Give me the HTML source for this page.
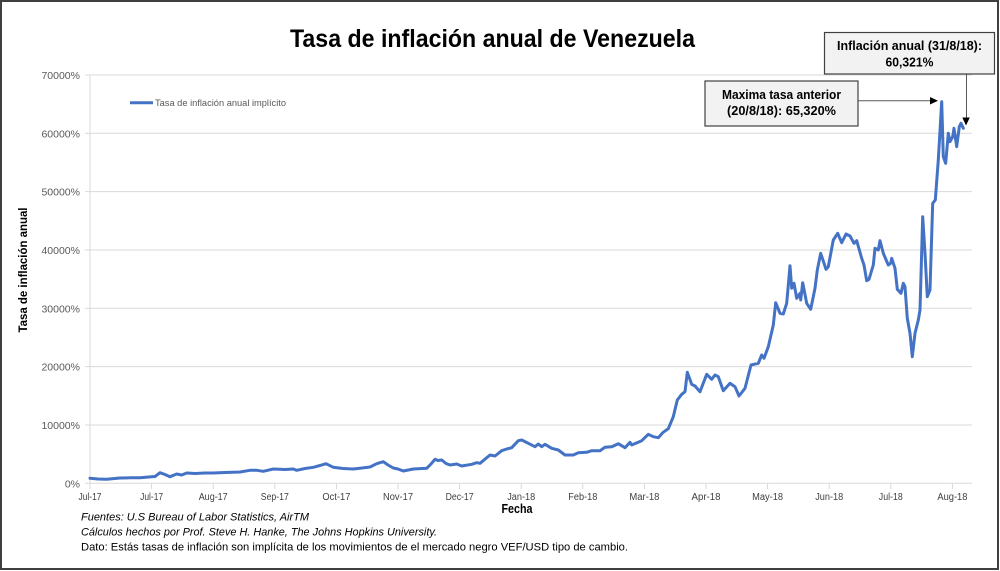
<!DOCTYPE html>
<html>
<head>
<meta charset="utf-8">
<style>
html,body{margin:0;padding:0;background:#fff;}
svg{display:block;}
text{font-family:"Liberation Sans",sans-serif;}
</style>
</head>
<body>
<svg width="1000" height="571" viewBox="0 0 1000 571" xmlns="http://www.w3.org/2000/svg">
<rect x="0" y="0" width="1000" height="571" fill="#fff"/>
<rect x="1" y="1" width="997" height="568" fill="#fff" stroke="#404040" stroke-width="2"/>

<!-- Title -->
<text x="290" y="47" font-size="25" font-weight="bold" fill="#000" textLength="405" lengthAdjust="spacingAndGlyphs">Tasa de inflación anual de Venezuela</text>

<!-- gridlines -->
<g stroke="#d9d9d9" stroke-width="1">
<line x1="90" y1="75" x2="972" y2="75"/>
<line x1="90" y1="133.3" x2="972" y2="133.3"/>
<line x1="90" y1="191.6" x2="972" y2="191.6"/>
<line x1="90" y1="250" x2="972" y2="250"/>
<line x1="90" y1="308.3" x2="972" y2="308.3"/>
<line x1="90" y1="366.6" x2="972" y2="366.6"/>
<line x1="90" y1="425" x2="972" y2="425"/>
<line x1="85" y1="483.3" x2="972" y2="483.3"/>
<line x1="90" y1="75" x2="90" y2="483.3"/>
<!-- y ticks -->
<line x1="85" y1="75" x2="90" y2="75"/>
<line x1="85" y1="133.3" x2="90" y2="133.3"/>
<line x1="85" y1="191.6" x2="90" y2="191.6"/>
<line x1="85" y1="250" x2="90" y2="250"/>
<line x1="85" y1="308.3" x2="90" y2="308.3"/>
<line x1="85" y1="366.6" x2="90" y2="366.6"/>
<line x1="85" y1="425" x2="90" y2="425"/>
<!-- x ticks -->
<line x1="90" y1="483" x2="90" y2="489"/>
<line x1="151.6" y1="483" x2="151.6" y2="489"/>
<line x1="213.2" y1="483" x2="213.2" y2="489"/>
<line x1="274.8" y1="483" x2="274.8" y2="489"/>
<line x1="336.4" y1="483" x2="336.4" y2="489"/>
<line x1="398" y1="483" x2="398" y2="489"/>
<line x1="459.6" y1="483" x2="459.6" y2="489"/>
<line x1="521.2" y1="483" x2="521.2" y2="489"/>
<line x1="582.8" y1="483" x2="582.8" y2="489"/>
<line x1="644.4" y1="483" x2="644.4" y2="489"/>
<line x1="706" y1="483" x2="706" y2="489"/>
<line x1="767.6" y1="483" x2="767.6" y2="489"/>
<line x1="829.2" y1="483" x2="829.2" y2="489"/>
<line x1="890.8" y1="483" x2="890.8" y2="489"/>
<line x1="952.4" y1="483" x2="952.4" y2="489"/>
</g>

<!-- y labels -->
<g font-size="10.5" fill="#595959" text-anchor="end">
<text x="80" y="79">70000%</text>
<text x="80" y="137.3">60000%</text>
<text x="80" y="195.6">50000%</text>
<text x="80" y="254">40000%</text>
<text x="80" y="312.3">30000%</text>
<text x="80" y="370.6">20000%</text>
<text x="80" y="429">10000%</text>
<text x="80" y="487.3">0%</text>
</g>

<!-- x labels -->
<g font-size="10" fill="#404040" text-anchor="middle">
<text x="90" y="500" textLength="23" lengthAdjust="spacingAndGlyphs">Jul-17</text>
<text x="151.6" y="500" textLength="23" lengthAdjust="spacingAndGlyphs">Jul-17</text>
<text x="213.2" y="500" textLength="29" lengthAdjust="spacingAndGlyphs">Aug-17</text>
<text x="274.8" y="500" textLength="28" lengthAdjust="spacingAndGlyphs">Sep-17</text>
<text x="336.4" y="500" textLength="28" lengthAdjust="spacingAndGlyphs">Oct-17</text>
<text x="398" y="500" textLength="30" lengthAdjust="spacingAndGlyphs">Nov-17</text>
<text x="459.6" y="500" textLength="28" lengthAdjust="spacingAndGlyphs">Dec-17</text>
<text x="521.2" y="500" textLength="28" lengthAdjust="spacingAndGlyphs">Jan-18</text>
<text x="582.8" y="500" textLength="29" lengthAdjust="spacingAndGlyphs">Feb-18</text>
<text x="644.4" y="500" textLength="30" lengthAdjust="spacingAndGlyphs">Mar-18</text>
<text x="706" y="500" textLength="29" lengthAdjust="spacingAndGlyphs">Apr-18</text>
<text x="767.6" y="500" textLength="31" lengthAdjust="spacingAndGlyphs">May-18</text>
<text x="829.2" y="500" textLength="28" lengthAdjust="spacingAndGlyphs">Jun-18</text>
<text x="890.8" y="500" textLength="24" lengthAdjust="spacingAndGlyphs">Jul-18</text>
<text x="952.4" y="500" textLength="30" lengthAdjust="spacingAndGlyphs">Aug-18</text>
</g>

<!-- axis titles -->
<text x="501.5" y="513" font-size="12.5" font-weight="bold" fill="#000" textLength="31" lengthAdjust="spacingAndGlyphs">Fecha</text>
<text transform="translate(27,270) rotate(-90)" x="0" y="0" font-size="12" font-weight="bold" fill="#000" text-anchor="middle" textLength="125" lengthAdjust="spacingAndGlyphs">Tasa de inflación anual</text>

<!-- legend -->
<line x1="130" y1="102.7" x2="153" y2="102.7" stroke="#4472C4" stroke-width="3"/>
<text x="155" y="106" font-size="9" fill="#595959" textLength="131" lengthAdjust="spacingAndGlyphs">Tasa de inflación anual implícito</text>

<!-- series -->
<polyline fill="none" stroke="#4472C4" stroke-width="3" stroke-linejoin="round" stroke-linecap="round" points="90,478.3 98,479 106.7,479.3 120,478 130,477.8 140,477.7 151.7,476.7 155,476.5 160,472.7 165,474.5 170,476.7 176.7,474 181.7,475 186.7,473 195,473.5 205,473 213.3,473 225,472.5 240,472 250,470.3 256.7,470.3 263.3,471.3 273.3,469 285,469.5 293.3,469 296.7,470.3 305,468.5 313.3,467.3 320,465.5 326,463.7 333.3,467.3 343,468.5 353.3,469 362,468 370,467 376.7,463.7 383.3,461.7 388,465 393.3,468 398,469 403.3,471 413.3,469 426.7,468.3 431,464 435,459.3 438,460.5 441.7,460 446,463.5 450,465 456.7,464 461.7,466 471.7,464.3 476.7,462.7 480,463.3 490,455 495,456 501.7,450.7 506.7,449 511.7,447.7 518.3,440.7 521.7,440 528.3,443.3 535,446.7 538.3,444 541.7,446.7 545,444.3 551.7,448.3 558.3,450 565,455 573.3,455 578.3,452.7 586.7,452.3 591.7,450.7 600,450.7 605,447.3 611.7,446.7 618.3,443.7 625,447.7 630,442.3 631.7,445 641.7,440.7 648.3,434.3 653.3,436.7 658.3,437.7 662.7,432.7 668.3,428.7 673.3,416.7 677.3,400 681.7,394.3 685,391.7 687.3,372.3 691.7,384.3 695,386 700,391.7 706.7,374.3 711.7,379.3 715,375 718.3,376.7 723.3,390.7 730,383.3 735,386.7 739,396 745,388.3 751,365 758.3,363.3 761.7,355 764,358.3 768.3,346.7 773.3,325 775.7,302.7 780,313.3 783.3,314 786.7,303.3 790,265.7 791.7,288.3 794,283.3 796.7,298.3 800,293.3 800.7,300 802.7,282.7 806.7,303.3 810.7,309.3 815,288.3 817.3,270 820.7,253.3 826,269.3 828.3,266.7 833.3,240 837.7,233.3 841.7,242.7 846,234 850,236 854,243.3 856.7,240.7 861.7,258.3 864,265 866.7,280.7 869,279.3 873.3,265 875,248.3 878.3,250 880,240.7 883.3,253.3 888.3,265 890.7,263.3 891.7,258.3 895,268.3 897.3,289.3 901,293.3 903.3,283.3 905,286.7 907.3,318.3 910,333.3 912.3,356.7 915,333.3 918.3,320 920,310 922.7,216.7 925,253.3 927.3,296.7 930,290 932.7,203.3 935.3,200 938.3,160 941.7,101.7 943.3,156.7 945.7,163.3 948.3,133.3 950,141.7 952.7,136.7 954,128.3 956.7,146.7 959.3,126.7 961,123.3 963.3,128.3"/>

<!-- annotation connectors -->
<line x1="858" y1="100.7" x2="931" y2="100.7" stroke="#595959" stroke-width="1"/>
<polygon points="938,100.7 930,97 930,104.5" fill="#000"/>
<line x1="966.5" y1="74" x2="966.5" y2="118" stroke="#595959" stroke-width="1"/>
<polygon points="966,125.5 962.3,117.5 969.8,117.5" fill="#000"/>

<!-- annotation boxes -->
<rect x="705" y="81" width="153" height="45" fill="#f2f2f2" stroke="#404040" stroke-width="1.2"/>
<text x="781.5" y="99" font-size="12.5" font-weight="bold" fill="#000" text-anchor="middle" textLength="119" lengthAdjust="spacingAndGlyphs">Maxima tasa anterior</text>
<text x="781.5" y="115" font-size="12.5" font-weight="bold" fill="#000" text-anchor="middle" textLength="109" lengthAdjust="spacingAndGlyphs">(20/8/18): 65,320%</text>

<rect x="824.5" y="32.5" width="170" height="41.5" fill="#f2f2f2" stroke="#404040" stroke-width="1.2"/>
<text x="909.5" y="50" font-size="12.5" font-weight="bold" fill="#000" text-anchor="middle" textLength="145" lengthAdjust="spacingAndGlyphs">Inflación anual (31/8/18):</text>
<text x="909.5" y="66.5" font-size="12.5" font-weight="bold" fill="#000" text-anchor="middle" textLength="48" lengthAdjust="spacingAndGlyphs">60,321%</text>

<!-- footnotes -->
<text x="81" y="520.7" font-size="11" font-style="italic" fill="#000" textLength="228" lengthAdjust="spacingAndGlyphs">Fuentes: U.S Bureau of Labor Statistics, AirTM</text>
<text x="81" y="535.5" font-size="11" font-style="italic" fill="#000" textLength="356" lengthAdjust="spacingAndGlyphs">Cálculos hechos por Prof. Steve H. Hanke, The Johns Hopkins University.</text>
<text x="81" y="550.5" font-size="11" fill="#000" textLength="547" lengthAdjust="spacingAndGlyphs">Dato: Estás tasas de inflación son implícita de los movimientos de el mercado negro VEF/USD tipo de cambio.</text>
</svg>
</body>
</html>
